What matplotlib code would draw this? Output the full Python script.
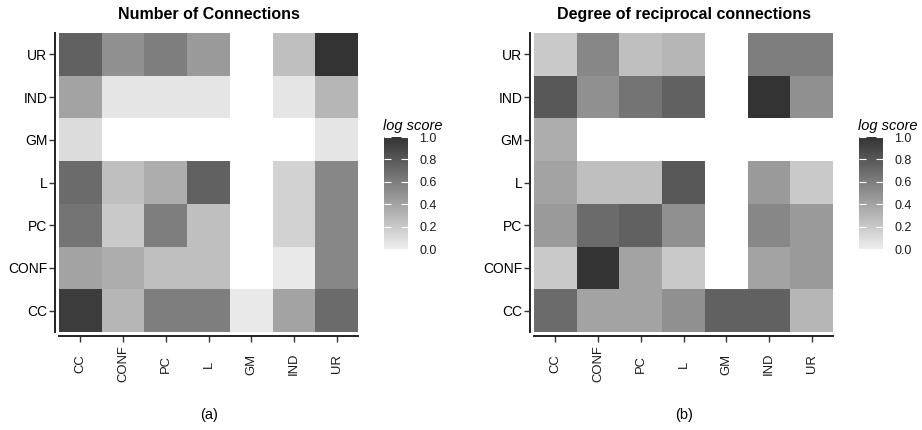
import matplotlib
matplotlib.use('Agg')
import matplotlib.pyplot as plt
import matplotlib.transforms as mtransforms
import numpy as np
from matplotlib.colors import LinearSegmentedColormap

plt.rcParams['font.family'] = ['Liberation Sans', 'DejaVu Sans']

labels = ["CC", "CONF", "PC", "L", "GM", "IND", "UR"]
nan = np.nan

# rows = y label (bottom to top: CC..UR), columns = x label (CC..UR)
conn_cc = [0.95, 0.30, 0.60, 0.60, 0.03, 0.40, 0.70]
conn_conf = [0.40, 0.35, 0.25, 0.25, nan, 0.03, 0.55]
conn_pc = [0.65, 0.20, 0.60, 0.25, nan, 0.15, 0.55]
conn_l = [0.70, 0.25, 0.35, 0.75, nan, 0.15, 0.55]
conn_gm = [0.10, nan, nan, nan, nan, nan, 0.05]
conn_ind = [0.40, 0.05, 0.05, 0.05, nan, 0.05, 0.30]
conn_ur = [0.75, 0.50, 0.60, 0.45, nan, 0.25, 1.00]

recip_cc = [0.70, 0.40, 0.40, 0.50, 0.75, 0.75, 0.30]
recip_conf = [0.20, 1.00, 0.40, 0.20, nan, 0.40, 0.45]
recip_pc = [0.45, 0.70, 0.75, 0.50, nan, 0.55, 0.45]
recip_l = [0.40, 0.25, 0.25, 0.80, nan, 0.45, 0.20]
recip_gm = [0.35, nan, nan, nan, nan, nan, nan]
recip_ind = [0.80, 0.50, 0.65, 0.75, nan, 1.00, 0.50]
recip_ur = [0.20, 0.55, 0.25, 0.30, nan, 0.60, 0.60]

conn = np.array([conn_cc, conn_conf, conn_pc, conn_l, conn_gm, conn_ind, conn_ur])
recip = np.array([recip_cc, recip_conf, recip_pc, recip_l, recip_gm, recip_ind, recip_ur])

cmap = LinearSegmentedColormap.from_list("grey", ["#eeeeee", "#333333"])
cmap.set_bad("white")

fig = plt.figure(figsize=(9.22, 4.3), dpi=100)
W, H = 922, 430


def px(x0, y0, x1, y1):
    return [x0 / W, 1 - y1 / H, (x1 - x0) / W, (y1 - y0) / H]


def panel(ax_rect, cb_rect, data, title, sub, sub_x):
    ax = fig.add_axes(px(*ax_rect))
    m = ax.pcolormesh(np.ma.masked_invalid(data), cmap=cmap, vmin=0, vmax=1)
    ax.set_xlim(0, 7)
    ax.set_ylim(0, 7)
    ticks = np.arange(7) + 0.5
    ax.set_xticks(ticks)
    ax.set_yticks(ticks)
    ax.set_xticklabels([])
    ax.set_yticklabels(labels, fontsize=11, color="#1a1a1a")
    # rotated x labels centred vertically, like ggplot's angle=90
    tr = mtransforms.blended_transform_factory(ax.transData, fig.transFigure)
    for xt, lab in zip(ticks, labels):
        ax.text(xt, 1 - 364 / H, lab, transform=tr, rotation=90, ha="center", va="center",
                fontsize=9.4, color="#1a1a1a", clip_on=False)
    ax.tick_params(axis="y", pad=1.5)
    for s in ["top", "right"]:
        ax.spines[s].set_visible(False)
    for s in ["left", "bottom"]:
        ax.spines[s].set_position(("outward", 3))
        ax.spines[s].set_linewidth(1.4)
        ax.spines[s].set_color("#222222")
    ax.tick_params(length=4, width=1, color="#333333")
    ax.set_title(title, fontsize=11.5, fontweight="bold", pad=10)
    fig.text(sub_x / W, 1 - 415 / H, sub, ha="center", va="center", fontsize=10.5)

    cax = fig.add_axes(px(*cb_rect))
    cb = fig.colorbar(m, cax=cax)
    cb.outline.set_visible(False)
    cb.set_ticks([0, 0.2, 0.4, 0.6, 0.8, 1.0])
    cb.set_ticklabels(["0.0", "0.2", "0.4", "0.6", "0.8", "1.0"])
    cb.ax.tick_params(left=True, right=True, length=5, width=0.8, color="white",
                      direction="in", labelsize=9, labelcolor="#1a1a1a", pad=8)
    cax.set_title("log score", fontsize=10.5, style="italic", pad=5, loc="left", x=-0.05)


panel((59, 33, 358, 332), (384, 137, 408, 249), conn, "Number of Connections", "(a)", 209)
panel((534, 33, 833, 332), (859, 137, 883, 249), recip, "Degree of reciprocal connections", "(b)", 684)

fig.savefig("out.png", dpi=100, facecolor="white")
